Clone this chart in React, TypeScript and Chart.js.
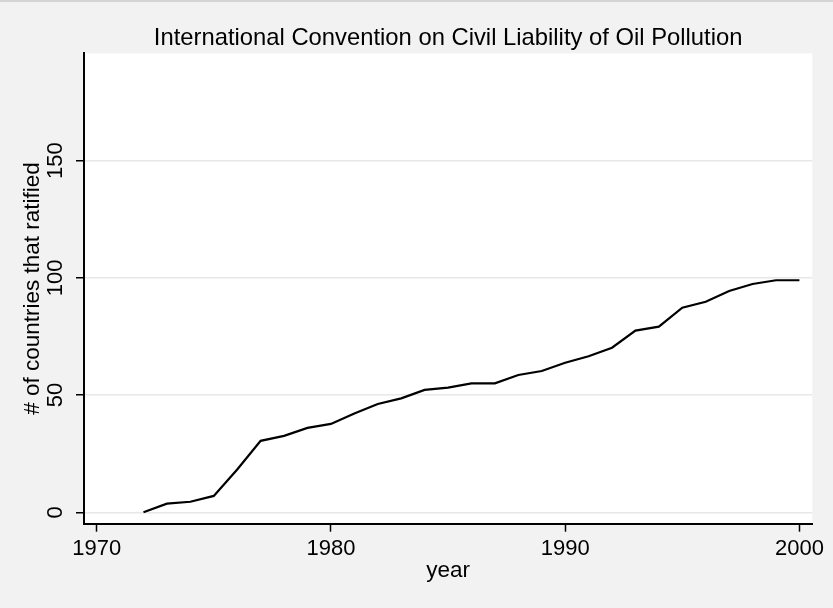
import React, { useEffect, useRef } from "react";
import { Chart, registerables } from "chart.js";

Chart.register(...registerables);

const years = [1972, 1973, 1974, 1975, 1976, 1977, 1978, 1979, 1980, 1981, 1982, 1983, 1984, 1985, 1986, 1987, 1988, 1989, 1990, 1991, 1992, 1993, 1994, 1995, 1996, 1997, 1998, 1999, 2000];
const ratified = [0, 3.7, 4.5, 7, 18.3, 30.5, 32.6, 36, 37.7, 42.2, 46.2, 48.6, 52.2, 53.2, 55, 55, 58.6, 60.3, 63.8, 66.6, 70.2, 77.5, 79.2, 87.3, 89.8, 94.4, 97.4, 99, 99];
const xTicks = [1970, 1980, 1990, 2000];
const yTicks = [0, 50, 100, 150];
const titleText = "International Convention on Civil Liability of Oil Pollution";
const xTitle = "year";
const yTitle = "# of countries that ratified";

const FAMILY = "'Liberation Sans', Arial, Helvetica, sans-serif";

export default function App() {
  const ref = useRef<HTMLCanvasElement>(null);

  useEffect(() => {
    document.body.style.margin = "0";
    const canvas = ref.current;
    if (!canvas) return;

    const bg = {
      id: "bg",
      beforeDraw(chart: any) {
        const { ctx, chartArea: a, width, height } = chart;
        ctx.save();
        ctx.fillStyle = "#f2f2f2";
        ctx.fillRect(0, 0, width, height);
        ctx.fillStyle = "#d4d4d4";
        ctx.fillRect(0, 0, width, 2);
        ctx.fillStyle = "#ffffff";
        ctx.fillRect(a.left, a.top, a.right - a.left, a.bottom - a.top);
        ctx.restore();
      },
    };

    const tickFont = { family: FAMILY, size: 22 };
    const titleFont = { family: FAMILY, size: 22.5 };

    const chart = new Chart(canvas, {
      type: "line",
      data: {
        datasets: [
          {
            data: years.map((yr, i) => ({ x: yr, y: ratified[i] })),
            borderColor: "#000000",
            borderWidth: 2.2,
            pointRadius: 0,
            tension: 0,
            fill: false,
          },
        ],
      },
      options: {
        responsive: false,
        animation: false,
        devicePixelRatio: 1,
        layout: { padding: { left: 0, right: 20.7, top: 0, bottom: 0 } },
        plugins: {
          legend: { display: false },
          tooltip: { enabled: false },
          title: {
            display: true,
            text: titleText,
            fullSize: false,
            color: "#000000",
            font: { family: FAMILY, size: 23.8, weight: "normal" },
            padding: { top: 24.2, bottom: 0.6 },
          },
        },
        scales: {
          x: {
            type: "linear",
            min: 1969.46,
            max: 2000.55,
            afterBuildTicks: (s: any) => {
              s.ticks = xTicks.map((v) => ({ value: v }));
            },
            afterFit: (s: any) => {
              s.height = 84.3;
            },
            grid: { drawOnChartArea: false, tickLength: 8, tickColor: "#000000", tickWidth: 1.5 },
            border: { color: "#000000", width: 2 },
            ticks: {
              color: "#000000",
              font: tickFont,
              padding: 4.5,
              maxRotation: 0,
              autoSkip: false,
              callback: (v: any) => String(v),
            },
            title: {
              display: true,
              text: xTitle,
              color: "#000000",
              font: titleFont,
              padding: { top: 0, bottom: 23.5 },
            },
          },
          y: {
            type: "linear",
            min: -4.86,
            max: 195.8,
            afterBuildTicks: (s: any) => {
              s.ticks = yTicks.map((v) => ({ value: v }));
            },
            afterFit: (s: any) => {
              s.width = 84;
            },
            grid: { color: "#e8e8e8", lineWidth: 1.5, tickLength: 8, tickColor: "#000000", tickWidth: 1.5 },
            border: { color: "#000000", width: 2 },
            ticks: {
              color: "#000000",
              font: tickFont,
              padding: 2,
              minRotation: 90,
              maxRotation: 90,
              crossAlign: "center",
              autoSkip: false,
              callback: (v: any) => String(v),
            },
            title: {
              display: true,
              text: yTitle,
              color: "#000000",
              font: titleFont,
              padding: { top: 19.5, bottom: 0 },
            },
          },
        },
      } as any,
      plugins: [bg],
    });

    return () => chart.destroy();
  }, []);

  return (
    <div style={{ width: 833, height: 608 }}>
      <canvas ref={ref} width={833} height={608} style={{ display: "block" }} />
    </div>
  );
}
